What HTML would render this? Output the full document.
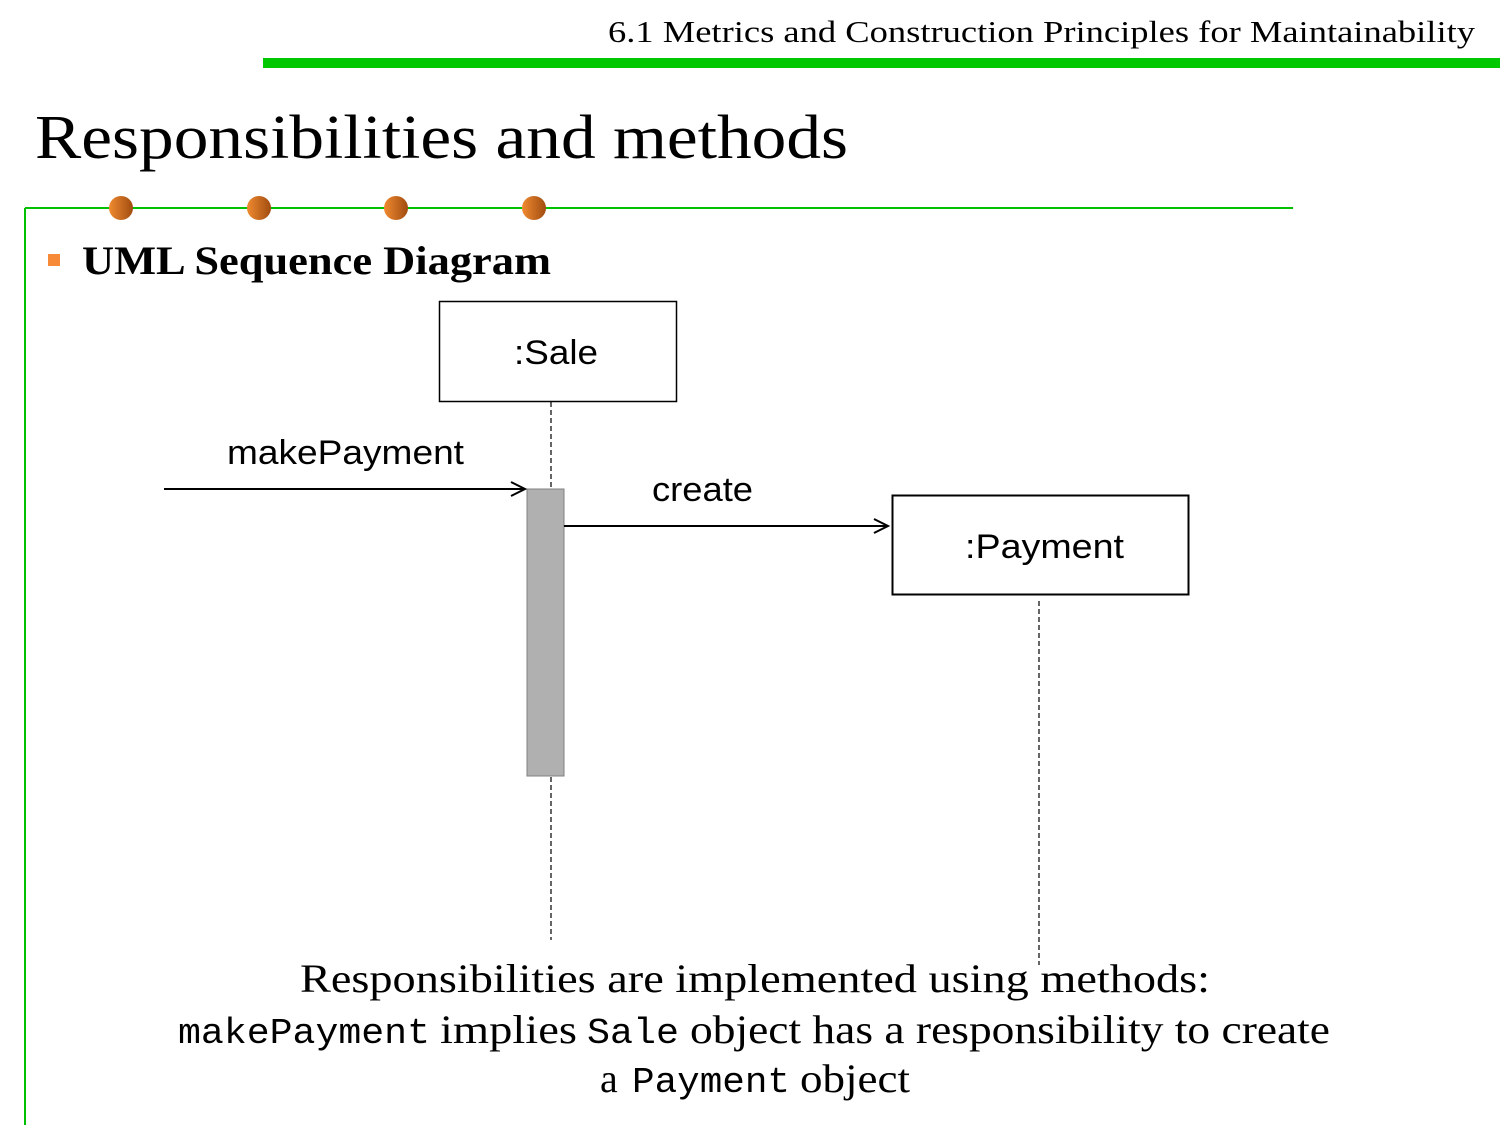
<!DOCTYPE html>
<html><head><meta charset="utf-8"><style>html,body{margin:0;padding:0;background:#fff}svg{display:block}</style></head>
<body>
<svg width="1500" height="1125" viewBox="0 0 1500 1125" xmlns="http://www.w3.org/2000/svg">
<defs>
<linearGradient id="g" x1="0" x2="1" y1="0" y2="0"><stop offset="0" stop-color="#f08a30"/><stop offset="1" stop-color="#a04c10"/></linearGradient>
</defs>
<text x="1475" y="42" text-anchor="end" font-family="Liberation Serif, serif" font-size="31" textLength="867" lengthAdjust="spacingAndGlyphs">6.1 Metrics and Construction Principles for Maintainability</text>
<rect x="263" y="58" width="1237" height="10" fill="#00c800"/>
<text x="35" y="158" font-family="Liberation Serif, serif" font-size="62" textLength="813" lengthAdjust="spacingAndGlyphs">Responsibilities and methods</text>
<line x1="25" y1="208" x2="1293" y2="208" stroke="#00c000" stroke-width="2"/>
<line x1="25" y1="208" x2="25" y2="1125" stroke="#00c000" stroke-width="2"/>
<circle cx="121" cy="208" r="12" fill="url(#g)"/>
<circle cx="259" cy="208" r="12" fill="url(#g)"/>
<circle cx="396" cy="208" r="12" fill="url(#g)"/>
<circle cx="534" cy="208" r="12" fill="url(#g)"/>
<rect x="48" y="254" width="12" height="12" fill="#f78a38"/>
<text x="82" y="274" font-family="Liberation Serif, serif" font-weight="bold" font-size="40" textLength="469" lengthAdjust="spacingAndGlyphs">UML Sequence Diagram</text>

<rect x="439.5" y="301.5" width="237" height="100" fill="#fff" stroke="#000" stroke-width="1.5"/>
<text x="514" y="364" font-family="Liberation Sans, sans-serif" font-size="34" textLength="84" lengthAdjust="spacingAndGlyphs">:Sale</text>
<line x1="551" y1="402" x2="551" y2="488" stroke="#000" stroke-width="1.2" stroke-dasharray="5,3"/>
<line x1="551" y1="777" x2="551" y2="940" stroke="#000" stroke-width="1.2" stroke-dasharray="5,3"/>
<rect x="527" y="489" width="37" height="287" fill="#b0b0b0" stroke="#808080"/>
<line x1="164" y1="489" x2="525" y2="489" stroke="#000" stroke-width="2"/>
<polyline points="511,482 525,489 511,496" fill="none" stroke="#000" stroke-width="2"/>
<text x="227" y="464" font-family="Liberation Sans, sans-serif" font-size="34" textLength="237" lengthAdjust="spacingAndGlyphs">makePayment</text>
<line x1="564" y1="526" x2="888" y2="526" stroke="#000" stroke-width="2"/>
<polyline points="874,519 888,526 874,533" fill="none" stroke="#000" stroke-width="2"/>
<text x="652" y="501" font-family="Liberation Sans, sans-serif" font-size="34" textLength="101" lengthAdjust="spacingAndGlyphs">create</text>
<rect x="892.5" y="495.5" width="296" height="99" fill="#fff" stroke="#000" stroke-width="2"/>
<text x="965" y="558" font-family="Liberation Sans, sans-serif" font-size="34" textLength="159" lengthAdjust="spacingAndGlyphs">:Payment</text>
<line x1="1039" y1="601" x2="1039" y2="965" stroke="#000" stroke-width="1.2" stroke-dasharray="5,3"/>

<g font-family="Liberation Serif, serif" font-size="40">
<text x="300" y="992" textLength="910" lengthAdjust="spacingAndGlyphs">Responsibilities are implemented using methods:</text>
<text x="178" y="1043" font-family="Liberation Mono, monospace" font-size="36" textLength="252" lengthAdjust="spacingAndGlyphs">makePayment</text>
<text x="440" y="1043" textLength="137" lengthAdjust="spacingAndGlyphs">implies</text>
<text x="587" y="1043" font-family="Liberation Mono, monospace" font-size="36" textLength="92" lengthAdjust="spacingAndGlyphs">Sale</text>
<text x="690" y="1043" textLength="640" lengthAdjust="spacingAndGlyphs">object has a responsibility to create</text>
<text x="600" y="1092">a</text>
<text x="632" y="1092" font-family="Liberation Mono, monospace" font-size="36" textLength="158" lengthAdjust="spacingAndGlyphs">Payment</text>
<text x="800" y="1092" textLength="110" lengthAdjust="spacingAndGlyphs">object</text>
</g>
</svg>
</body></html>
